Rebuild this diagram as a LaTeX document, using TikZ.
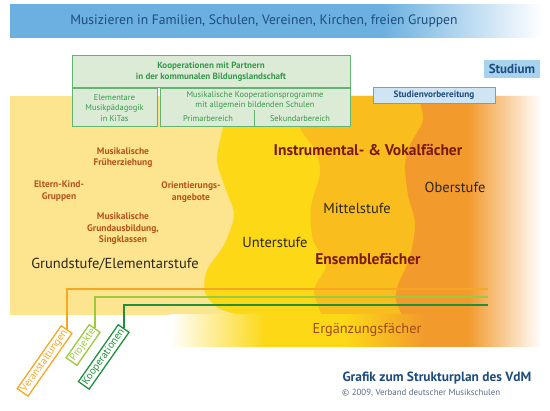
\documentclass[tikz,border=0pt]{standalone}
\usepackage{fontspec}
\setmainfont{PT Sans}
\usetikzlibrary{fadings}
\definecolor{pale}{HTML}{FDE48E}
\definecolor{yelB}{HTML}{FCD817}
\definecolor{amber}{HTML}{F9BD1E}
\definecolor{orgD}{HTML}{F29A2C}
\definecolor{bannerblue}{HTML}{6BB0E0}
\definecolor{navy}{HTML}{1E4C7E}
\definecolor{gfill}{HTML}{DCEBD6}
\definecolor{gline}{HTML}{62B570}
\definecolor{gtext}{HTML}{35994A}
\definecolor{lblbrown}{HTML}{B4531E}
\definecolor{dred}{HTML}{7A1A12}
\definecolor{ergc}{HTML}{A04A1C}
\definecolor{lorange}{HTML}{F7A823}
\definecolor{lgreen}{HTML}{9DC93C}
\definecolor{dgreen}{HTML}{1E913C}
\definecolor{svfill}{HTML}{CFE5F4}
\definecolor{svline}{HTML}{7A9CC0}
\definecolor{stfill}{HTML}{A7D3EE}
\definecolor{copyc}{HTML}{5B6B85}
\definecolor{stage}{HTML}{2B2620}
\pgfdeclarehorizontalshading{bannershade}{100bp}{color(0bp)=(bannerblue); color(25bp)=(bannerblue); color(60bp)=(bannerblue); color(75bp)=(white); color(100bp)=(white)}
\pgfdeclarehorizontalshading{bandshade}{100bp}{color(0bp)=(white); color(25bp)=(white); color(37.8bp)=(yelB); color(48.6bp)=(yelB); color(59.5bp)=(orgD); color(100bp)=(orgD)}
\begin{document}
\begin{tikzpicture}[x=1pt,y=-1pt,
  lbl/.style={text=lblbrown, font=\fontsize{9.5}{11.5}\selectfont\bfseries, align=center, inner sep=0pt},
  stagelbl/.style={text=stage, font=\fontsize{14.5}{16}\selectfont, inner sep=0pt},
  subj/.style={text=dred, font=\fontsize{15.5}{17}\selectfont\bfseries, inner sep=0pt},
  gbox/.style={draw=gline, fill=gfill, line width=1pt, inner sep=0pt, text=gtext, align=center, font=\fontsize{8.4}{10.5}\selectfont},
  gtxt/.style={text=gtext, inner sep=0pt, align=center, font=\fontsize{8.4}{9.5}\selectfont},
  tagbox/.style={draw=#1, text=#1, fill=white, line width=1.3pt, inner sep=1.8pt, font=\fontsize{10.5}{11}\selectfont},
  conn/.style={line width=1.4pt}
]
\useasboundingbox (0,0) rectangle (550,411);
% banner
\shade[shading=bannershade] (10,5) rectangle (542,38);
\node[text=navy, font=\fontsize{13.6}{15}\selectfont, inner sep=0pt] (banner) at (264,21) {Musizieren in Familien, Schulen, Vereinen, Kirchen, freien Gruppen};
% main regions
\fill[pale] (10,96) rectangle (300,315);
\fill[yelB] plot[smooth] coordinates {(228,96) (223,127) (217,160) (226,190) (234,215) (224,245) (207,270) (205,292) (218,308) (240,315)} -- (430,315) -- (430,96) -- cycle;
\fill[amber] plot[smooth] coordinates {(300,96) (300,127) (315,150) (320,173) (311,207) (313,240) (326,265) (314,290) (322,315)} -- (500,315) -- (500,96) -- cycle;
\fill[orgD] plot[smooth] coordinates {(418,96) (423,120) (410,145) (405,165) (408,195) (415,223) (410,257) (398,285) (396,300) (402,315)} -- (540,315) -- (540,96) -- cycle;
\shade[shading=bandshade] (170,315) rectangle (540,347);
\fill[white, path fading=west] (468,94) rectangle (541,348);
% green box
\node[gbox, font=\fontsize{9}{11}\selectfont\bfseries, minimum width=278, minimum height=32] (kop) at (211,72) {Kooperationen mit Partnern\\in der kommunalen Bildungslandschaft};
\node[gbox, minimum width=85, minimum height=38] (kita) at (114.5,108) {Elementare\\Musikpädagogik\\in KiTas};
\node[gbox, minimum width=190, minimum height=38] (schul) at (255,108) {};
\node[gtxt] (mkp) at (255,100.5) {Musikalische Kooperationsprogramme\\mit allgemein bildenden Schulen};
\node[gtxt] (prim) at (208,119) {Primarbereich};
\node[gtxt] (sek) at (300,119) {Sekundarbereich};
\coordinate (dv) at (254,110.5);
\draw[gline, line width=1pt] (dv) -- (dv |- schul.south);
% Studium
\node[fill=stfill, text=navy, font=\fontsize{13}{14}\selectfont\bfseries, minimum width=56, minimum height=18, inner sep=0pt] (studium) at (512,69) {Studium};
\node[fill=svfill, draw=svline, line width=0.8pt, text=navy, font=\fontsize{9.2}{10}\selectfont\bfseries, minimum width=122, minimum height=16, inner sep=0pt] (sv) at (434,95) {Studienvorbereitung};
% labels
\node[lbl] (mfe) at (123,157.5) {Musikalische\\Früherziehung};
\node[lbl] (ekg) at (59,191) {Eltern-Kind-\\Gruppen};
\node[lbl] (oa) at (191,192) {Orientierungs-\\angebote};
\node[lbl] (mga) at (123,229) {Musikalische\\Grundausbildung,\\Singklassen};
\node[text=stage, font=\fontsize{14.5}{16}\selectfont, inner sep=0pt] (gs) at (115,264) {Grundstufe/Elementarstufe};
\node[stagelbl] (unter) at (275,242) {Unterstufe};
\node[stagelbl] (mittel) at (357,208) {Mittelstufe};
\node[stagelbl] (ober) at (455,187) {Oberstufe};
\node[subj] (ivf) at (368,150) {Instrumental- \& Vokalfächer};
\node[subj] (ens) at (368,259) {Ensemblefächer};
\node[text=ergc, font=\fontsize{14.3}{16}\selectfont, inner sep=0pt] (erg) at (367,330) {Ergänzungsfächer};
% connectors and tags
\node[tagbox=lorange, rotate=55, anchor=east] (veran) at (67,329) {Veranstaltungen};
\node[tagbox=lgreen, rotate=55, anchor=east] (proj) at (95,328) {Projekte};
\node[tagbox=dgreen, rotate=55, anchor=east] (koop) at (124,328) {Kooperationen};
\coordinate (oEnd) at (488,289);
\coordinate (lEnd) at (488,297);
\coordinate (dEnd) at (488,305);
\draw[conn, lorange] (veran.east) |- (oEnd);
\draw[conn, lgreen] (proj.east) |- (lEnd);
\draw[conn, dgreen] (koop.east) |- (dEnd);
% footer
\node[text=navy, font=\fontsize{13.4}{15}\selectfont\bfseries, inner sep=0pt] (grafik) at (437,378) {Grafik zum Strukturplan des VdM};
\node[text=copyc, font=\fontsize{8.9}{10}\selectfont, inner sep=0pt, anchor=west] (copy) at (342,393) {© 2009, Verband deutscher Musikschulen};
\end{tikzpicture}
\end{document}
